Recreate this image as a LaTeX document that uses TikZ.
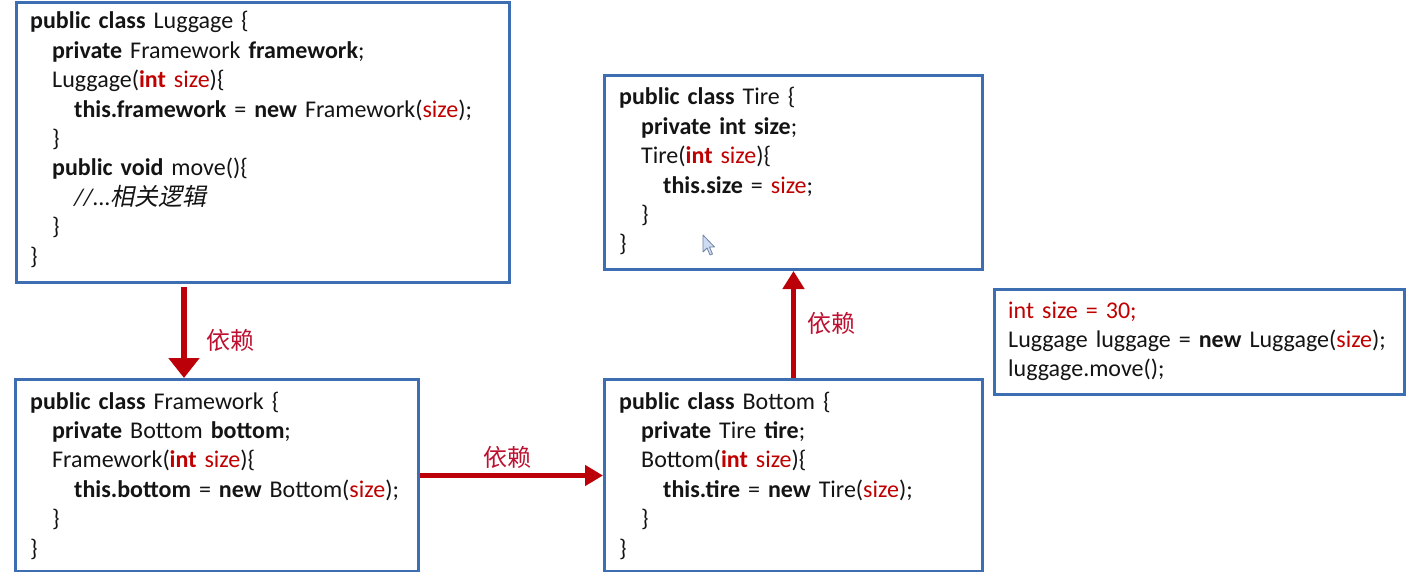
\documentclass[tikz,border=0pt]{standalone}
\usepackage{fontspec}
\setmainfont{Carlito}
\newfontfamily\cjk{Noto Sans CJK SC}
\newfontfamily\cjkit[FakeSlant=0.2]{Noto Sans CJK SC}
\usetikzlibrary{arrows.meta}
\definecolor{boxblue}{RGB}{62,110,178}
\definecolor{codered}{RGB}{192,0,0}
\definecolor{arrred}{RGB}{188,0,10}
\definecolor{lblred}{RGB}{190,16,48}
\definecolor{txt}{RGB}{20,20,20}
\newcommand{\rd}[1]{\textcolor{codered}{#1}}
\newcommand{\ind}{\hspace*{22pt}}
\begin{document}
\begin{tikzpicture}[x=1pt,y=-1pt,
  codebox/.style={draw=boxblue,line width=3pt,fill=white,inner sep=0pt,anchor=north west},
  codetext/.style={inner sep=0pt,anchor=base west,align=left,text=txt,
    font=\fontsize{24}{29.4}\selectfont},
  dep/.style={draw=arrred,line width=5.5pt,-{Triangle[length=19pt,width=24pt]}},
  lbl/.style={inner sep=0pt,text=lblred,font=\fontsize{24}{29}\selectfont\cjk}]
\useasboundingbox[fill=white] (0,0) rectangle (1406,572);

% boxes
\node[codebox,minimum width=493pt,minimum height=279pt] (lug) at (14.5,1.5) {};
\node[codebox,minimum width=403pt,minimum height=192pt] (fw) at (14,378) {};
\node[codebox,minimum width=378pt,minimum height=192pt] (bot) at (603,378) {};
\node[codebox,minimum width=378pt,minimum height=194pt] (tire) at (603,74) {};
\node[codebox,minimum width=410pt,minimum height=105pt] (main) at (993,288) {};

% texts
\node[codetext,text width=470pt] (lugtxt) at (30,29) {%
\textbf{public class} Luggage \{\\
\ind\textbf{private} Framework \textbf{framework};\\
\ind Luggage(\rd{\textbf{int} size})\{\\
\ind\ind\textbf{this.framework} = \textbf{new} Framework(\rd{size});\\
\ind\}\\
\ind\textbf{public void} move()\{\\
\ind\ind\textit{//...{\cjkit 相关逻辑}}\\
\ind\}\\
\}};

\node[codetext,text width=380pt] (fwtxt) at (30,409) {%
\textbf{public class} Framework \{\\
\ind\textbf{private} Bottom \textbf{bottom};\\
\ind Framework(\rd{\textbf{int} size})\{\\
\ind\ind\textbf{this.bottom} = \textbf{new} Bottom(\rd{size});\\
\ind\}\\
\}};

\node[codetext,text width=350pt] (bottxt) at (619,409) {%
\textbf{public class} Bottom \{\\
\ind\textbf{private} Tire \textbf{tire};\\
\ind Bottom(\rd{\textbf{int} size})\{\\
\ind\ind\textbf{this.tire} = \textbf{new} Tire(\rd{size});\\
\ind\}\\
\}};

\node[codetext,text width=350pt] (tiretxt) at (619,105) {%
\textbf{public class} Tire \{\\
\ind\textbf{private int size};\\
\ind Tire(\rd{\textbf{int} size})\{\\
\ind\ind\textbf{this.size} = \rd{size};\\
\ind\}\\
\}};

\node[codetext,text width=395pt] (maintxt) at (1008,318) {%
\rd{int size = 30;}\\
Luggage luggage = \textbf{new} Luggage(\rd{size});\\
luggage.move();};

% connectors
\coordinate (a1s) at (184,287);
\draw[dep,-{Triangle[length=20pt,width=30pt]}] (a1s) -- node[lbl,pos=0.59,anchor=west,xshift=20pt] (l1) {依赖} (a1s |- fw.north);
\draw[dep,-{Triangle[length=18pt,width=20pt]}] (fw.east) -- node[lbl,pos=0.48,yshift=18pt] (l2) {依赖} (bot.west);
\draw[dep,-{Triangle[length=18pt,width=21pt]}] (bot.north) -- node[lbl,pos=0.51,xshift=38pt] (l3) {依赖} (tire.south);

% mouse cursor
\draw[fill={rgb,255:red,205;green,220;blue,242},draw={rgb,255:red,110;green,130;blue,165},line width=0.8pt,line join=round]
  (703,235) -- (703,252) -- (707,248) -- (710,255) -- (712.5,254) -- (709.5,247) -- (714.5,247) -- cycle;
\end{tikzpicture}
\end{document}
